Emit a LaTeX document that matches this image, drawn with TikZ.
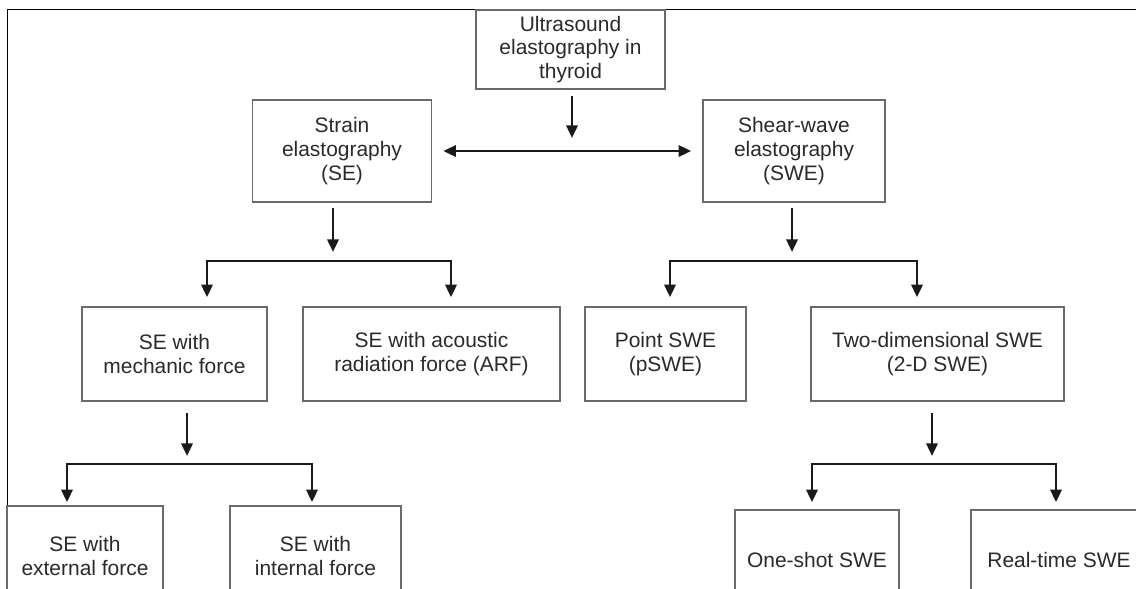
\documentclass[tikz,border=0pt]{standalone}
\usepackage{fontspec}
\setmainfont{Liberation Sans}
\usetikzlibrary{arrows.meta}
\definecolor{boxline}{HTML}{6A6A6A}
\definecolor{ink}{HTML}{2A2A2A}
\definecolor{wire}{HTML}{1A1A1A}
\tikzset{
  flow/.tip={Triangle[length=9pt,width=8pt]},
  block/.style={draw=boxline, line width=1.1pt, text=ink, align=center, inner sep=0pt,
    font=\fontsize{14.9pt}{17pt}\selectfont},
  conn/.style={draw=wire, line width=1.9pt, -flow},
  twoway/.style={draw=wire, line width=1.9pt, flow-flow},
}
\begin{document}
\begin{tikzpicture}[x=0.025cm,y=-0.025cm]
            \useasboundingbox (0,0) rectangle (1136,588);
            \clip (0,0) rectangle (1136,588);
            
            \draw[line width=0.8pt] (7.5,588) -- (7.5,9.5) -- (1136,9.5);
            
            % level 1 and 2
            \node[block, minimum width=4.725cm, minimum height=1.975cm] (us) at (570.5,49.5) {Ultrasound\\elastography in\\thyroid};
            \node[block, minimum width=4.475cm, minimum height=2.55cm] (se) at (342,151) {Strain\\elastography\\(SE)};
            \node[block, minimum width=4.55cm, minimum height=2.55cm] (swe) at (794,151) {Shear-wave\\elastography\\(SWE)};
            
            % level 3
            \node[block, minimum width=4.625cm, minimum height=2.35cm] (mech) at (174.5,354) {SE with\\mechanic force};
            \node[block, minimum width=6.425cm, minimum height=2.35cm] (arf) at (431.5,354) {SE with acoustic\\radiation force (ARF)};
            \node[block, minimum width=4.025cm, minimum height=2.35cm] (pswe) at (665.5,354) {Point SWE\\(pSWE)};
            \node[block, minimum width=6.325cm, minimum height=2.35cm] (tdswe) at (937.5,354) {Two-dimensional SWE\\(2-D SWE)};
            
            % level 4
            \node[block, minimum width=3.9cm, minimum height=2.5cm] (ext) at (85,556) {SE with\\external force};
            \node[block, minimum width=4.275cm, minimum height=2.5cm] (int) at (315.5,556) {SE with\\internal force};
            \node[block, minimum width=4.1cm, minimum height=2.5cm] (oneshot) at (817,560) {One-shot SWE};
            \node[block, minimum width=4.4cm, minimum height=2.5cm] (realtime) at (1059,560) {Real-time SWE};
            
            \coordinate (mid) at (572,151);
            \coordinate (seL) at (207,261);
            \coordinate (seR) at (451,261);
            \coordinate (sweL) at (670,261);
            \coordinate (sweR) at (917,261);
            \coordinate (mechL) at (67,464);
            \coordinate (mechR) at (312,464);
            \coordinate (tdL) at (812,464);
            \coordinate (tdR) at (1056,464);
            
            \draw[conn, shorten <=0.15cm, shorten >=0.325cm] (us.south -| mid) -- (mid);
            \draw[twoway, shorten <=0.275cm, shorten >=0.275cm] (se.east) -- (swe.west);
            
            \draw[conn, shorten <=0.125cm, shorten >=0.225cm] (se.south -| 333,0) -- (333,261);
            \draw[twoway, shorten <=0.225cm, shorten >=0.225cm] (seL |- mech.north) -- (seL) -- (seR) -- (seR |- arf.north);
            
            \draw[conn, shorten <=0.125cm, shorten >=0.225cm] (swe.south -| 792,0) -- (792,261);
            \draw[twoway, shorten <=0.225cm, shorten >=0.225cm] (sweL |- pswe.north) -- (sweL) -- (sweR) -- (sweR |- tdswe.north);
            
            \draw[conn, shorten <=0.275cm, shorten >=0.2cm] (mech.south -| 187,0) -- (187,464);
            \draw[twoway, shorten <=0.075cm, shorten >=0.075cm] (mechL |- ext.north) -- (mechL) -- (mechR) -- (mechR |- int.north);
            
            \draw[conn, shorten <=0.275cm, shorten >=0.2cm] (tdswe.south -| 932,0) -- (932,464);
            \draw[twoway, shorten <=0.175cm, shorten >=0.175cm] (tdL |- oneshot.north) -- (tdL) -- (tdR) -- (tdR |- realtime.north);
            
        \end{tikzpicture}
\end{document}
